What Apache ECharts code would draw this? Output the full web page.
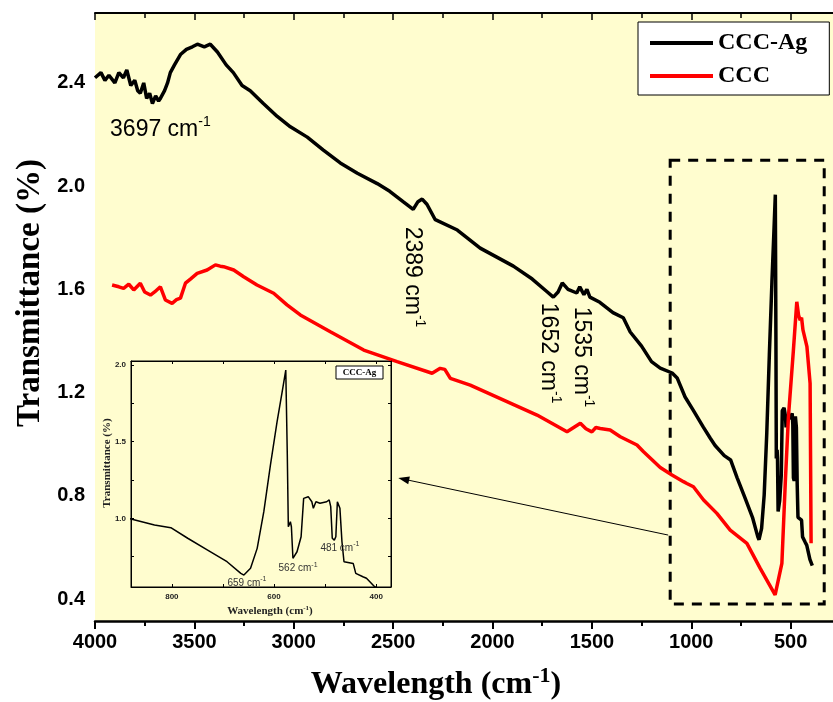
<!DOCTYPE html>
<html>
<head>
<meta charset="utf-8">
<title>FTIR</title>
<style>html,body{margin:0;padding:0;background:#fff;}</style>
</head>
<body>
<div id="container" style="width:833px;height:702px;"></div>
<script src="https://cdn.jsdelivr.net/npm/echarts@6/dist/echarts.min.js"></script>
<script>
'use strict'

// CCC-Ag spectrum (wavenumber, transmittance)
var agWave = [4000, 3970, 3950, 3930, 3900, 3880, 3857, 3840, 3820, 3800, 3785, 3772, 3755, 3740, 3725, 3711, 3695, 3680, 3671, 3650,
	3635, 3621, 3600, 3570, 3540, 3510, 3485, 3450, 3420, 3384, 3340, 3304, 3260, 3219, 3153, 3083, 3017, 2932, 2851, 2766,
	2680, 2580, 2517, 2450, 2399, 2375, 2354, 2330, 2288, 2177, 2062, 1895, 1800, 1724, 1694, 1670, 1649, 1620, 1576, 1561,
	1540, 1525, 1510, 1460, 1394, 1342, 1307, 1250, 1200, 1156, 1096, 1071, 1031, 991, 940, 905, 880, 834, 802, 769,
	730, 692, 665, 659, 646, 633, 620, 607, 594, 584, 577, 574, 572, 568, 566, 563, 555, 547, 542, 533,
	526, 523, 518, 510, 497, 492, 489, 486, 482, 479, 476, 471, 467, 463, 445, 440, 426, 419, 403, 391];
var agT = [2.42, 2.44, 2.41, 2.43, 2.40, 2.44, 2.42, 2.45, 2.39, 2.41, 2.37, 2.36, 2.40, 2.34, 2.36, 2.32, 2.35, 2.33, 2.34, 2.37,
	2.40, 2.44, 2.47, 2.51, 2.53, 2.54, 2.55, 2.54, 2.55, 2.52, 2.47, 2.44, 2.39, 2.37, 2.32, 2.27, 2.23, 2.19, 2.14, 2.09,
	2.05, 2.01, 1.98, 1.94, 1.91, 1.94, 1.95, 1.93, 1.87, 1.83, 1.76, 1.69, 1.64, 1.59, 1.57, 1.59, 1.625, 1.60, 1.586, 1.61,
	1.58, 1.60, 1.57, 1.55, 1.51, 1.49, 1.435, 1.38, 1.32, 1.295, 1.276, 1.257, 1.183, 1.133, 1.067, 1.024, 0.995, 0.956, 0.939, 0.87,
	0.793, 0.717, 0.641, 0.63, 0.674, 0.804, 1.043, 1.348, 1.63, 1.826, 1.967, 1.41, 0.945, 0.978, 0.945, 0.739, 0.782, 0.88, 1.13, 1.141,
	1.108, 1.065, 1.108, 1.098, 1.108, 1.12, 1.076, 0.87, 0.858, 0.88, 1.108, 1.065, 0.847, 0.717, 0.706, 0.641, 0.619, 0.609, 0.554, 0.53];

// CCC spectrum
var cccWave = [3914, 3880, 3856, 3830, 3805, 3772, 3750, 3721, 3700, 3671, 3646, 3612, 3590, 3570, 3545, 3520, 3486, 3436, 3394, 3370,
	3353, 3302, 3252, 3185, 3101, 3034, 2967, 2816, 2648, 2480, 2304, 2263, 2240, 2212, 2112, 1944, 1776, 1625, 1558, 1530,
	1500, 1480, 1458, 1408, 1357, 1273, 1240, 1156, 1097, 1039, 1022, 989, 938, 871, 804, 720, 653, 578, 544, 527,
	511, 486, 469, 460, 452, 445, 438, 418, 402, 397];
var cccT = [1.617, 1.61, 1.604, 1.62, 1.598, 1.624, 1.59, 1.578, 1.59, 1.61, 1.559, 1.546, 1.56, 1.566, 1.624, 1.64, 1.662, 1.675, 1.695, 1.69,
	1.688, 1.675, 1.649, 1.617, 1.585, 1.54, 1.501, 1.436, 1.365, 1.32, 1.275, 1.294, 1.29, 1.255, 1.229, 1.171, 1.113, 1.048, 1.081, 1.06,
	1.048, 1.065, 1.061, 1.055, 1.029, 0.997, 0.971, 0.91, 0.881, 0.855, 0.848, 0.835, 0.784, 0.732, 0.667, 0.616, 0.519, 0.416, 0.538, 0.848,
	1.107, 1.365, 1.552, 1.50, 1.481, 1.49, 1.443, 1.378, 1.236, 0.616];

// tick labels
var yLabels = [0.4, 0.8, 1.2, 1.6, 2.0, 2.4];
var yTicks = [0.4, 0.6, 0.8, 1.0, 1.2, 1.4, 1.6, 1.8, 2.0, 2.2, 2.4, 2.6];
var insetXLabels = [400, 600, 800];
var insetXTicks = [400, 500, 600, 700, 800];
var insetYLabels = [1.0, 1.5, 2.0];
var insetYTicks = [0.75, 1.0, 1.25, 1.5, 1.75, 2.0];

// peak labels
var mainPeaks = ['3697', '2389', '1652', '1535'];
var insetPeaks = ['659', '562', '481'];

function zip(a, b) {
	var out = [];
	for (var i = 0; i < a.length; i++) out.push([a[i], b[i]]);
	return out;
}

var YELLOW = '#FFFDCF';
var SANS = '"Liberation Sans", Arial, sans-serif';
var SERIF = '"Liberation Serif", "Times New Roman", serif';

var myChart = echarts.init(document.getElementById('container'));

var option = {
	animation: false,
	backgroundColor: '#fff',
	grid: [{
		// plot runs past the right edge of the picture (cropped), 0 cm-1 would sit at ~890px
		left: 95, top: 13, width: 795, height: 608,
		outerBoundsMode: 'none', containLabel: false,
		show: true, backgroundColor: YELLOW, borderWidth: 0
	}, {
		left: 131, top: 361, width: 260, height: 226,
		outerBoundsMode: 'none', containLabel: false,
		show: true, backgroundColor: YELLOW, borderColor: '#000', borderWidth: 1, z: 3
	}],
	legend: {
		data: ['CCC-Ag', 'CCC'],
		orient: 'vertical',
		left: 638, top: 22,
		padding: [9, 22, 7, 12],
		itemGap: 9,
		itemWidth: 63, itemHeight: 4,
		icon: 'rect',
		backgroundColor: '#fff',
		borderColor: '#000', borderWidth: 1,
		textStyle: { fontFamily: SERIF, fontWeight: 'bold', fontSize: 24, color: '#000' }
	},
	xAxis: [{
		gridIndex: 0, type: 'value', inverse: true, min: 0, max: 4000, interval: 500,
		axisLine: { lineStyle: { color: '#000', width: 2.5 } },
		axisTick: { length: 8, lineStyle: { color: '#000', width: 2 } },
		minorTick: { show: true, splitNumber: 2, length: 5, lineStyle: { color: '#000', width: 2 } },
		axisLabel: {
			fontFamily: SANS, fontWeight: 'bold', fontSize: 20, color: '#000', margin: 11, showMaxLabel: true,
			formatter: function (v) { return String(v); }
		},
		splitLine: { show: false }
	}, {
		gridIndex: 0, type: 'value', position: 'top', inverse: true, min: 0, max: 4000, interval: 500,
		axisLine: { lineStyle: { color: '#000', width: 2 } },
		axisTick: { inside: true, length: 7, lineStyle: { color: '#000', width: 1.5 } },
		minorTick: { show: true, splitNumber: 2, length: 5, lineStyle: { color: '#000', width: 1.5 } },
		axisLabel: { show: false },
		splitLine: { show: false }
	}, {
		gridIndex: 1, type: 'value', inverse: true, min: 371, max: 880, z: 4,
		axisLine: { lineStyle: { color: '#000', width: 1 } },
		axisTick: { inside: true, length: 3, customValues: insetXTicks, lineStyle: { color: '#000' } },
		axisLabel: {
			customValues: insetXLabels, fontFamily: SANS, fontWeight: 'bold', fontSize: 8, color: '#222', margin: 6,
			formatter: function (v) { return String(v); }
		},
		splitLine: { show: false }
	}, {
		gridIndex: 1, type: 'value', position: 'top', inverse: true, min: 371, max: 880, z: 4,
		axisLine: { lineStyle: { color: '#000', width: 1 } },
		axisTick: { inside: true, length: 3, customValues: insetXTicks, lineStyle: { color: '#000' } },
		axisLabel: { show: false },
		splitLine: { show: false }
	}],
	yAxis: [{
		gridIndex: 0, type: 'value', min: 0.315, max: 2.671,
		axisLine: { show: true, lineStyle: { color: '#000', width: 2.5 } },
		axisTick: { show: true, length: 6, customValues: yTicks, lineStyle: { color: '#000', width: 2 } },
		axisLabel: {
			customValues: yLabels, fontFamily: SANS, fontWeight: 'bold', fontSize: 20, color: '#000', margin: 10,
			formatter: function (v) { return v.toFixed(1); }
		},
		splitLine: { show: false }
	}, {
		gridIndex: 1, type: 'value', min: 0.552, max: 2.026, z: 4,
		axisLine: { show: true, lineStyle: { color: '#000', width: 1 } },
		axisTick: { show: true, inside: true, length: 3, customValues: insetYTicks, lineStyle: { color: '#000' } },
		axisLabel: {
			customValues: insetYLabels, fontFamily: SANS, fontWeight: 'bold', fontSize: 8, color: '#222', margin: 5,
			formatter: function (v) { return v.toFixed(1); }
		},
		splitLine: { show: false }
	}, {
		gridIndex: 1, type: 'value', position: 'right', min: 0.552, max: 2.026, z: 4,
		axisLine: { show: true, lineStyle: { color: '#000', width: 1 } },
		axisTick: { show: true, inside: true, length: 3, customValues: insetYTicks, lineStyle: { color: '#000' } },
		axisLabel: { show: false },
		splitLine: { show: false }
	}],
	series: [{
		name: 'CCC-Ag', type: 'line', xAxisIndex: 0, yAxisIndex: 0,
		data: zip(agWave, agT), showSymbol: false, symbol: 'none',
		lineStyle: { color: '#000', width: 3.5 }, itemStyle: { color: '#000' },
		markArea: {
			silent: true,
			itemStyle: { color: 'rgba(0,0,0,0)', borderColor: '#000', borderWidth: 3, borderType: [10, 8] },
			data: [[{ coord: [1106, 2.10] }, { coord: [331, 0.381] }]]
		}
	}, {
		name: 'CCC', type: 'line', xAxisIndex: 0, yAxisIndex: 0,
		data: zip(cccWave, cccT), showSymbol: false, symbol: 'none',
		lineStyle: { color: '#FF0000', width: 3.5 }, itemStyle: { color: '#FF0000' }
	}, {
		name: 'CCC-Ag (inset)', type: 'line', xAxisIndex: 2, yAxisIndex: 1, z: 5,
		data: zip(agWave, agT), showSymbol: false, symbol: 'none',
		lineStyle: { color: '#000', width: 1.5 }
	}]
};
myChart.setOption(option);

// annotations placed from data coordinates
function px(w, t) { return myChart.convertToPixel({ xAxisIndex: 0, yAxisIndex: 0 }, [w, t]); }
function ipx(w, t) { return myChart.convertToPixel({ xAxisIndex: 2, yAxisIndex: 1 }, [w, t]); }

var supRich = {
	b: { fontFamily: SANS, fontSize: 23, verticalAlign: 'bottom' },
	s: { fontFamily: SANS, fontSize: 14, verticalAlign: 'top', padding: [0, 0, 12, 0] }
};
var insetRich = {
	b: { fontFamily: SANS, fontSize: 10, verticalAlign: 'bottom', fill: '#333' },
	s: { fontFamily: SANS, fontSize: 7, verticalAlign: 'top', padding: [0, 0, 5, 0], fill: '#333' }
};
var mainAnchors = [[3671, 2.226, 0], [2398, 1.648, -Math.PI / 2], [1709, 1.353, -Math.PI / 2], [1543, 1.338, -Math.PI / 2]];
var insetAnchors = [[653, 0.586], [553, 0.682], [471, 0.813]];

var g = [];
mainPeaks.forEach(function (lab, i) {
	var p = px(mainAnchors[i][0], mainAnchors[i][1]);
	g.push({
		type: 'text', x: p[0], y: p[1], rotation: mainAnchors[i][2], z: 10,
		style: { text: '{b|' + lab + ' cm}{s|-1}', rich: supRich, fill: '#000', align: 'center', verticalAlign: 'middle' }
	});
});
insetPeaks.forEach(function (lab, i) {
	var p = ipx(insetAnchors[i][0], insetAnchors[i][1]);
	g.push({
		type: 'text', x: p[0], y: p[1], z: 10,
		style: { text: '{b|' + lab + ' cm}{s|-1}', rich: insetRich, fill: '#333', align: 'center', verticalAlign: 'middle' }
	});
});

// arrow from the boxed region to the inset
var a0 = px(1116, 0.648), a1 = px(2474, 0.869);
var ang = Math.atan2(a1[1] - a0[1], a1[0] - a0[0]);
var hl = 11, hw = 4;
var bx = a1[0] - hl * Math.cos(ang), by = a1[1] - hl * Math.sin(ang);
g.push({ type: 'line', z: 10, shape: { x1: a0[0], y1: a0[1], x2: bx, y2: by }, style: { stroke: '#000', lineWidth: 1 } });
g.push({
	type: 'polygon', z: 10,
	shape: { points: [a1, [bx + hw * Math.sin(ang), by - hw * Math.cos(ang)], [bx - hw * Math.sin(ang), by + hw * Math.cos(ang)]] },
	style: { fill: '#000' }
});

// inset legend box
g.push({ type: 'rect', z: 10, shape: { x: 336, y: 366, width: 47, height: 13 }, style: { fill: '#fff', stroke: '#000', lineWidth: 1 } });
g.push({ type: 'text', z: 11, x: 359.5, y: 372.5, style: { text: 'CCC-Ag', fontFamily: SERIF, fontWeight: 'bold', fontSize: 9, fill: '#000', align: 'center', verticalAlign: 'middle' } });

// axis titles
g.push({
	type: 'text', z: 10, x: 30, y: 293, rotation: Math.PI / 2,
	style: { text: 'Transmittance (%)', fontFamily: SERIF, fontWeight: 'bold', fontSize: 33, fill: '#000', align: 'center', verticalAlign: 'middle' }
});
g.push({
	type: 'text', z: 10, x: 436, y: 683,
	style: {
		text: '{b|Wavelength (cm}{s|-1}{b|)}', align: 'center', verticalAlign: 'middle', fill: '#000',
		rich: {
			b: { fontFamily: SERIF, fontWeight: 'bold', fontSize: 32, verticalAlign: 'bottom' },
			s: { fontFamily: SERIF, fontWeight: 'bold', fontSize: 22, verticalAlign: 'top', padding: [0, 0, 14, 0] }
		}
	}
});
g.push({
	type: 'text', z: 10, x: 107, y: 463, rotation: Math.PI / 2,
	style: { text: 'Transmittance (%)', fontFamily: SERIF, fontWeight: 'bold', fontSize: 11, fill: '#222', align: 'center', verticalAlign: 'middle' }
});
g.push({
	type: 'text', z: 10, x: 270, y: 611,
	style: {
		text: '{b|Wavelength (cm}{s|-1}{b|)}', align: 'center', verticalAlign: 'middle', fill: '#222',
		rich: {
			b: { fontFamily: SERIF, fontWeight: 'bold', fontSize: 11, verticalAlign: 'bottom' },
			s: { fontFamily: SERIF, fontWeight: 'bold', fontSize: 7, verticalAlign: 'top', padding: [0, 0, 5, 0] }
		}
	}
});

myChart.setOption({ graphic: g });
</script>
</body>
</html>
